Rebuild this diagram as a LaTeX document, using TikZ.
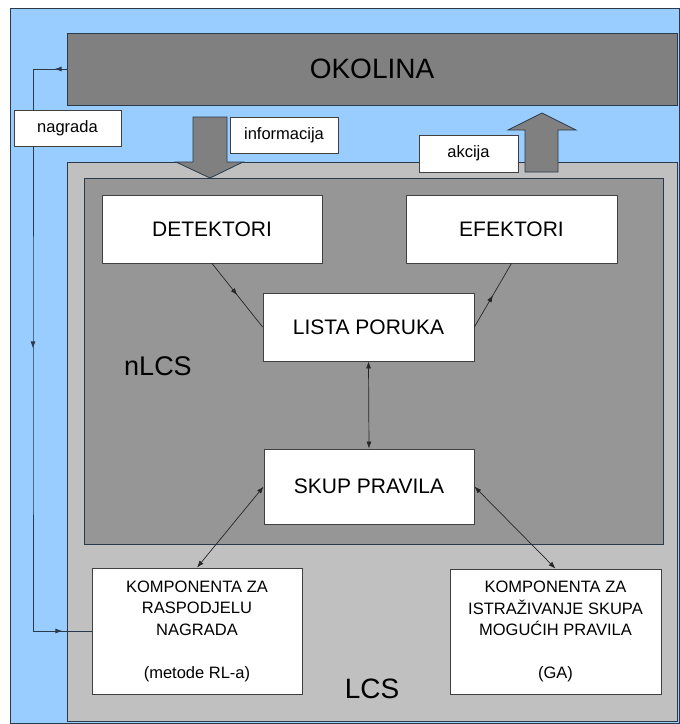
\documentclass[tikz,border=0pt]{standalone}
\usepackage{fontspec}
\setmainfont{Liberation Sans}
\usetikzlibrary{arrows.meta,decorations.markings}
\definecolor{skyfill}{HTML}{99CCFF}
\definecolor{envgray}{HTML}{808080}
\definecolor{lcsgray}{HTML}{C0C0C0}
\definecolor{nlcsgray}{HTML}{969696}
\definecolor{frame}{HTML}{2A3A4A}
\definecolor{boxline}{HTML}{404040}
\begin{document}
\begin{tikzpicture}[x=1pt,y=-1pt,
  panel/.style={draw=frame, line width=0.9pt, inner sep=0pt},
  whitebox/.style={draw=boxline, fill=white, line width=0.8pt, inner sep=0pt, align=center},
  bigtext/.style={font=\fontsize{21}{25}\selectfont},
  smalltext/.style={font=\fontsize{16.5}{21.5}\selectfont},
  tagbox/.style={draw=boxline, fill=white, line width=0.8pt, inner sep=0pt, font=\fontsize{16.5}{20}\selectfont},
  link/.style={draw=black!85, line width=0.7pt},
  headtip/.style={-{Latex[length=7pt,width=5pt]}},
  bothtips/.style={{Latex[length=7pt,width=5pt]}-{Latex[length=7pt,width=5pt]}},
  midtip/.style={postaction={decorate}, decoration={markings,
      mark=at position 0.5 with {\arrow{Latex[length=7pt,width=5pt]}}}},
  blockarrow/.style={fill=envgray, draw=frame, line width=0.8pt, line join=miter},
]
\fill[white] (0,0) rectangle (680,724);
\useasboundingbox (0,0) rectangle (680,724);

% background and the nested system panels
\node[panel, fill=skyfill, minimum width=669pt, minimum height=715pt] (sky) at (344.5,365.5) {};
\node[panel, fill=envgray, minimum width=610pt, minimum height=72pt,
      font=\fontsize{28}{32}\selectfont] (oko) at (372,69) {OKOLINA};
\node[panel, fill=lcsgray, minimum width=610pt, minimum height=559pt] (lcs) at (372,441.5) {};
\node[panel, fill=nlcsgray, minimum width=579pt, minimum height=366pt] (nlcs) at (373.5,361) {};
\node[font=\fontsize{27}{30}\selectfont, inner sep=0pt] (nlcslbl) at (158,366) {nLCS};
\node[font=\fontsize{28}{30}\selectfont, inner sep=0pt] (lcslbl) at (372,689) {LCS};

% component boxes
\node[whitebox, bigtext, minimum width=220pt, minimum height=68pt] (det) at (212,229) {DETEKTORI};
\node[whitebox, bigtext, minimum width=211pt, minimum height=68pt] (efe) at (511.5,229) {EFEKTORI};
\node[whitebox, bigtext, minimum width=211pt, minimum height=68pt] (lista) at (368.5,327) {LISTA PORUKA};
\node[whitebox, bigtext, minimum width=210pt, minimum height=75pt] (skup) at (369,486.5) {SKUP PRAVILA};
\node[whitebox, smalltext, minimum width=210pt, minimum height=126pt] (kompL) at (197,631)
  {KOMPONENTA ZA\\RASPODJELU\\NAGRADA\\[21.5pt](metode RL-a)};
\node[whitebox, smalltext, minimum width=211pt, minimum height=125pt] (kompR) at (555.5,631.5)
  {KOMPONENTA ZA\\ISTRAŽIVANJE SKUPA\\MOGUĆIH PRAVILA\\[21.5pt](GA)};

% connectors between components
\draw[link, midtip] (det.south) -- (lista.west);
\draw[link, midtip] (lista.east) -- (efe.south);
\draw[link, bothtips] (lista.south) -- (skup.north);
\draw[link, bothtips] (skup.west) -- (kompL.north);
\draw[link, bothtips] (skup.east) -- (kompR.north);

% reward feedback loop
\coordinate (rail) at (33,400);
\draw[draw=frame, line width=0.8pt, postaction={decorate}, decoration={markings,
    mark=at position 12pt with {\arrow{Latex[length=7pt,width=5pt]}},
    mark=at position 313pt with {\arrow{Latex[length=7pt,width=5pt]}},
    mark=at position 625pt with {\arrow{Latex[length=7pt,width=5pt]}}}]
  (oko.west) -| (rail) |- (kompL.west);

% block arrows for perception and action
\draw[blockarrow] (193,117) -- (227,117) -- (227,162) -- (243,162) -- (210,178)
  -- (176,162) -- (193,162) -- cycle;
\draw[blockarrow] (525,172) -- (558,172) -- (558,130) -- (576,130) -- (542,113)
  -- (508,130) -- (525,130) -- cycle;

% labels
\node[tagbox, minimum width=107pt, minimum height=36pt] (nagr) at (67.5,128) {nagrada};
\node[tagbox, minimum width=108pt, minimum height=36pt] (info) at (284,135) {informacija};
\node[tagbox, minimum width=99pt, minimum height=37pt] (akc) at (468.5,153.5) {akcija};
\end{tikzpicture}
\end{document}
